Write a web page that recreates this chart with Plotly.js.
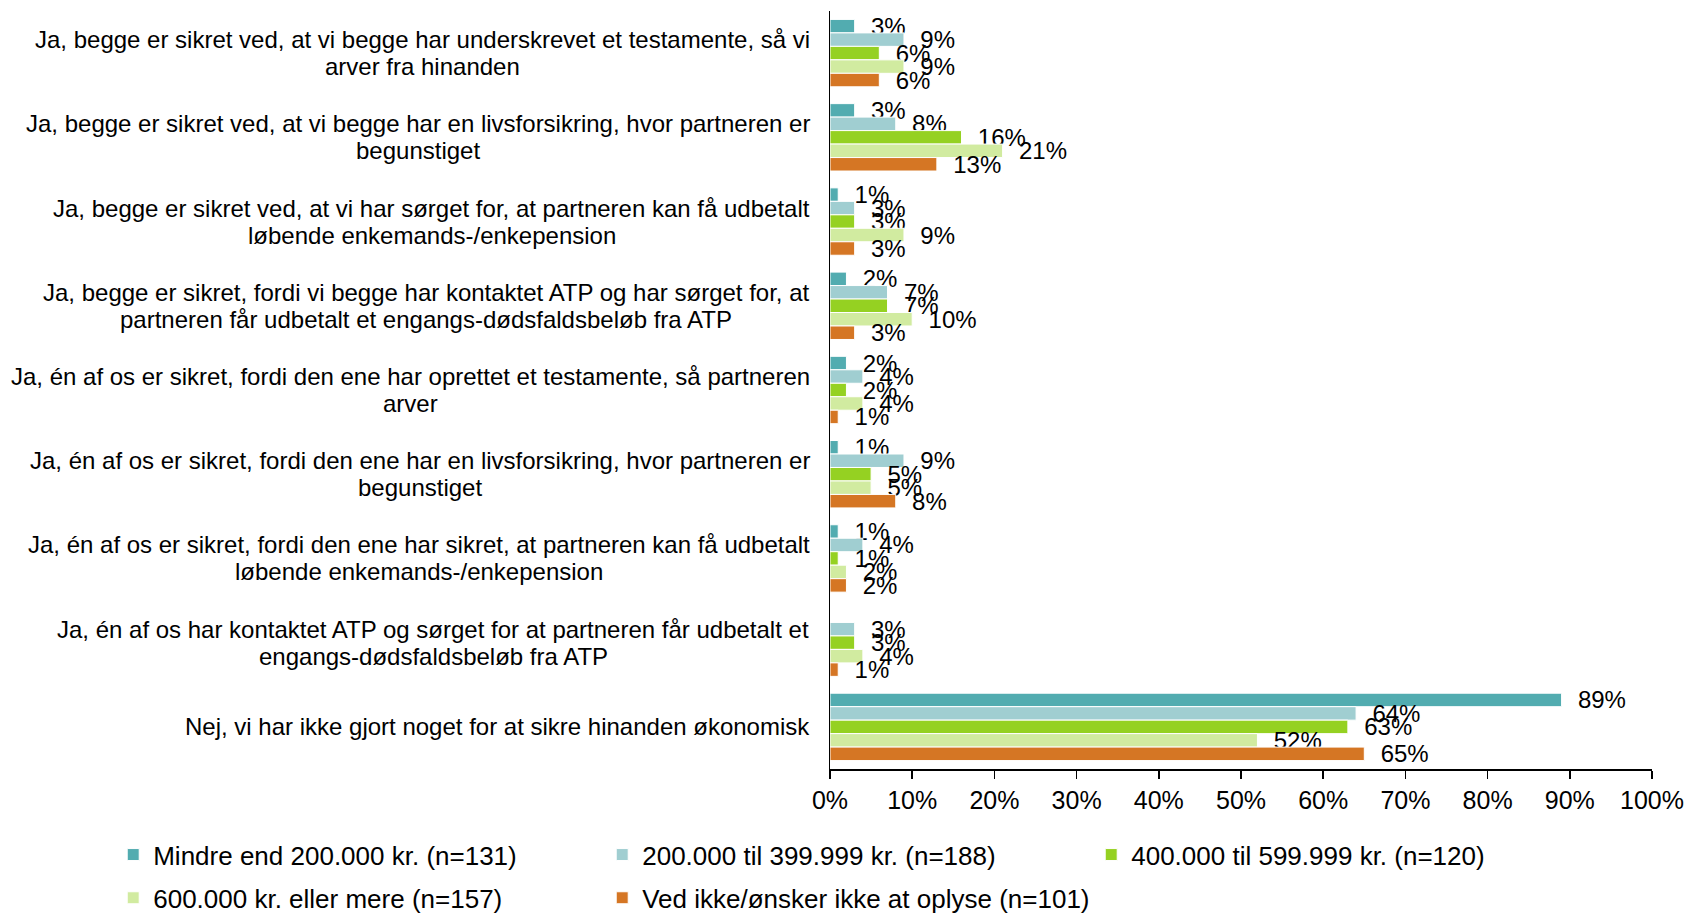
<!DOCTYPE html>
<html>
<head>
<meta charset="utf-8">
<script src="https://cdn.plot.ly/plotly-3.0.1.min.js"></script>
<style>html,body{margin:0;padding:0;background:#fff;}#chart{width:1688px;height:913px;}</style>
</head>
<body>
<div id="chart"></div>
<script>
const categories = [
  "Ja, begge er sikret ved, at vi begge har underskrevet et testamente, så vi<br>arver fra hinanden",
  "Ja, begge er sikret ved, at vi begge har en livsforsikring, hvor partneren er<br>begunstiget",
  "Ja, begge er sikret ved, at vi har sørget for, at partneren kan få udbetalt<br>løbende enkemands-/enkepension",
  "Ja, begge er sikret, fordi vi begge har kontaktet ATP og har sørget for, at<br>partneren får udbetalt et engangs-dødsfaldsbeløb fra ATP",
  "Ja, én af os er sikret, fordi den ene har oprettet et testamente, så partneren<br>arver",
  "Ja, én af os er sikret, fordi den ene har en livsforsikring, hvor partneren er<br>begunstiget",
  "Ja, én af os er sikret, fordi den ene har sikret, at partneren kan få udbetalt<br>løbende enkemands-/enkepension",
  "Ja, én af os har kontaktet ATP og sørget for at partneren får udbetalt et<br>engangs-dødsfaldsbeløb fra ATP",
  "Nej, vi har ikke gjort noget for at sikre hinanden økonomisk"
];
const seriesNames = [
  "Mindre end 200.000 kr. (n=131)",
  "200.000 til 399.999 kr. (n=188)",
  "400.000 til 599.999 kr. (n=120)",
  "600.000 kr. eller mere (n=157)",
  "Ved ikke/ønsker ikke at oplyse (n=101)"
];
const under200 = [3, 3, 1, 2, 2, 1, 1, null, 89];
const from200to399 = [9, 8, 3, 7, 4, 9, 4, 3, 64];
const from400to599 = [6, 16, 3, 7, 2, 5, 1, 3, 63];
const over600 = [9, 21, 9, 10, 4, 5, 2, 4, 52];
const dontKnow = [6, 13, 3, 3, 1, 8, 2, 1, 65];
const xTicks = [0, 10, 20, 30, 40, 50, 60, 70, 80, 90, 100];

const seriesValues = [under200, from200to399, from400to599, over600, dontKnow];
const colors = ["#52ACB0", "#A0CED1", "#95D122", "#D1EBA0", "#D57624"];
const FONT = "Liberation Sans, Arial, sans-serif";

const traces = seriesValues.map((vals, i) => ({
  type: "bar",
  orientation: "h",
  name: seriesNames[i],
  legend: i < 3 ? "legend" : "legend2",
  y: categories,
  x: vals.map(v => v === null ? null : v / 100),
  text: vals.map(v => v === null ? "" : "\u00A0\u00A0" + v + "%"),
  textposition: "outside",
  constraintext: "none",
  cliponaxis: false,
  textfont: {family: FONT, size: 24, color: "#000"},
  marker: {color: colors[i], line: {color: "#ffffff", width: 1}},
  hoverinfo: "skip"
}));

// category labels: one annotation per text line, centred under each other
const LINE_H = 27;
const annotations = [];
categories.forEach(c => {
  const lines = c.split("<br>");
  const n = lines.length;
  lines.forEach((ln, k) => {
    annotations.push({
      xref: "paper", yref: "y",
      x: 0, y: c,
      xanchor: "center", yanchor: "middle",
      xshift: -20 - 0, // adjusted below
      yshift: ((n - 1) / 2 - k) * LINE_H,
      text: ln, showarrow: false,
      font: {family: FONT, size: 24, color: "#000"},
      _cat: c, _line: k
    });
  });
});

// measure line widths to centre lines within each label block, right-aligned block
const meas = document.createElement("canvas").getContext("2d");
meas.font = "24px 'Liberation Sans', Arial, sans-serif";
categories.forEach(c => {
  const anns = annotations.filter(a => a._cat === c);
  const maxW = Math.max(...anns.map(a => meas.measureText(a.text).width));
  anns.forEach(a => { a.xshift = -20 - maxW / 2; });
});
annotations.forEach(a => { delete a._cat; delete a._line; });

const legendCommon = {
  orientation: "h",
  xanchor: "left", yanchor: "middle",
  entrywidth: 444, entrywidthmode: "pixels",
  font: {family: FONT, size: 26, color: "#000"},
  traceorder: "normal",
  itemclick: false, itemdoubleclick: false,
  bgcolor: "rgba(0,0,0,0)"
};

const layout = {
  width: 1688, height: 913,
  margin: {l: 830, r: 36, t: 11, b: 144, autoexpand: false},
  paper_bgcolor: "#fff", plot_bgcolor: "#fff",
  barmode: "group",
  bargap: 0.2, bargroupgap: 0,
  font: {family: FONT, size: 24, color: "#000"},
  showlegend: true,
  xaxis: {
    range: [0, 1],
    tickvals: xTicks.map(t => t / 100),
    ticktext: xTicks.map(t => t + "%"),
    showgrid: false, zeroline: false,
    showline: true, linecolor: "#000", linewidth: 1.5,
    ticks: "outside", ticklen: 8, tickcolor: "#000", tickwidth: 1.5,
    tickfont: {family: FONT, size: 25, color: "#000"},
    fixedrange: true
  },
  yaxis: {
    autorange: "reversed",
    showticklabels: false,
    showgrid: false, zeroline: false,
    showline: true, linecolor: "#000", linewidth: 1.5,
    ticks: "", fixedrange: true
  },
  legend: Object.assign({}, legendCommon, {x: -0.872, y: -0.113}),
  legend2: Object.assign({}, legendCommon, {x: -0.872, y: -0.170}),
  annotations: annotations
};

Plotly.newPlot("chart", traces, layout, {displayModeBar: false, staticPlot: true});
</script>
</body>
</html>
